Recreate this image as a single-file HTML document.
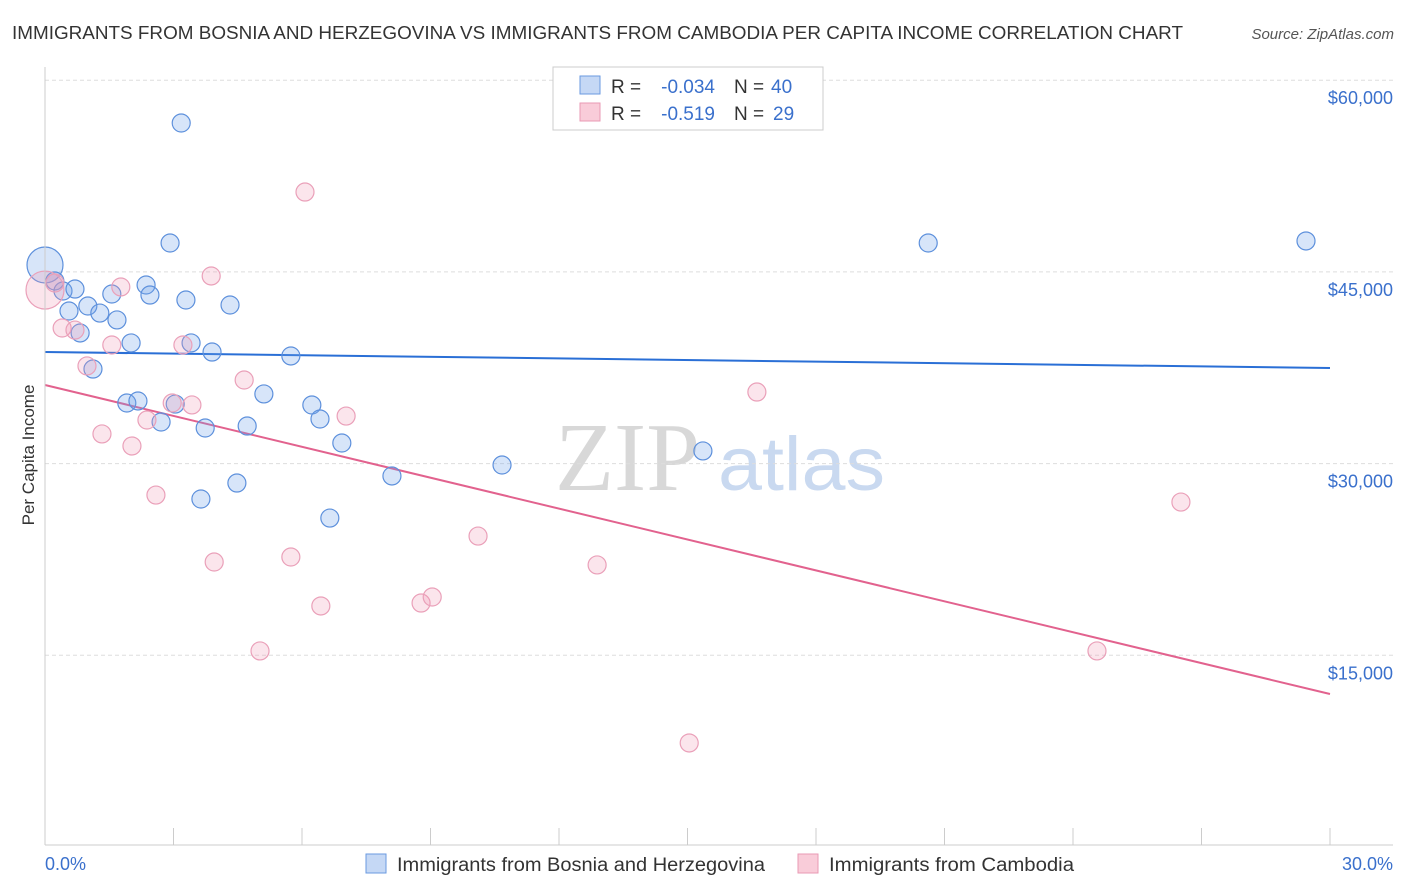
<!DOCTYPE html>
<html><head><meta charset="utf-8"><style>
body{margin:0;background:#fff;font-family:"Liberation Sans",sans-serif}
svg{display:block}
</style></head><body>
<svg id="chart" width="1406" height="892">
<text x="12" y="39" font-size="18" fill="#333" textLength="1171" lengthAdjust="spacingAndGlyphs">IMMIGRANTS FROM BOSNIA AND HERZEGOVINA VS IMMIGRANTS FROM CAMBODIA PER CAPITA INCOME CORRELATION CHART</text>
<text x="1394" y="39" font-size="15" fill="#555" font-style="italic" text-anchor="end">Source: ZipAtlas.com</text>
<g><text x="555" y="490" font-size="98" fill="#d8d8d8" font-family="Liberation Serif,serif" textLength="145" lengthAdjust="spacingAndGlyphs">ZIP</text><text x="718" y="490" font-size="76" fill="#c9d9f0" textLength="167" lengthAdjust="spacingAndGlyphs">atlas</text></g>
<g id="grid"></g><g id="trend"></g><g id="pts"></g>
<line x1="45" y1="67" x2="45" y2="845" stroke="#ccc"/>
<line x1="45" y1="845" x2="1393" y2="845" stroke="#ccc"/>
<text transform="translate(34,455) rotate(-90)" font-size="17" fill="#333" text-anchor="middle">Per Capita Income</text>
<text x="45" y="870" font-size="18" fill="#3a70cc">0.0%</text>
<text x="1393" y="870" font-size="18" fill="#3a70cc" text-anchor="end">30.0%</text>
<g>
<rect x="553" y="67" width="270" height="63" fill="#fff" stroke="#ccc"/>
<rect x="580" y="76" width="20" height="18" fill="#c5d8f5" stroke="#6a9ae0"/>
<rect x="580" y="103" width="20" height="18" fill="#f9ccd9" stroke="#e99ab4"/>
<text x="611" y="93" font-size="19" fill="#333">R =</text>
<text x="715" y="93" font-size="19" fill="#3a70cc" text-anchor="end">-0.034</text>
<text x="734" y="93" font-size="19" fill="#333">N =</text>
<text x="771" y="93" font-size="19" fill="#3a70cc">40</text>
<text x="611" y="120" font-size="19" fill="#333">R =</text>
<text x="715" y="120" font-size="19" fill="#3a70cc" text-anchor="end">-0.519</text>
<text x="734" y="120" font-size="19" fill="#333">N =</text>
<text x="773" y="120" font-size="19" fill="#3a70cc">29</text>
</g>
<g>
<rect x="366" y="854" width="20" height="19" fill="#c5d8f5" stroke="#6a9ae0"/>
<text x="397" y="871" font-size="19" fill="#333" textLength="368" lengthAdjust="spacingAndGlyphs">Immigrants from Bosnia and Herzegovina</text>
<rect x="798" y="854" width="20" height="19" fill="#f9ccd9" stroke="#e99ab4"/>
<text x="829" y="871" font-size="19" fill="#333" textLength="245" lengthAdjust="spacingAndGlyphs">Immigrants from Cambodia</text>
</g>
</svg>
<script>
const yTicks=[15000,30000,45000,60000];
const yTickLabels=["$15,000","$30,000","$45,000","$60,000"];
const xTicks=[0,3,6,9,12,15,18,21,24,27,30];
const bosniaX=[0,0.23,0.42,0.70,0.56,0.82,1.00,1.28,1.12,1.56,1.68,2.01,1.91,2.17,2.36,2.45,2.71,3.04,3.18,2.92,3.29,3.41,3.74,3.64,3.90,4.32,4.48,4.72,5.11,5.74,6.23,6.42,6.65,6.93,8.10,10.67,15.36,20.62,29.44];
const bosniaY=[45540,44290,43505,43660,41940,40220,42330,41780,37400,43270,41240,39440,34740,34900,43975,43190,33255,34660,56650,47260,42800,39440,32785,27230,38730,42410,28480,32940,35450,38420,34585,33490,25740,31610,29030,29890,30990,47260,47420];
const cambodiaX=[0,0.23,0.40,0.70,0.98,1.33,1.56,1.77,2.03,2.38,2.59,2.97,3.22,3.43,3.88,3.95,4.65,5.02,5.74,6.07,6.44,7.03,8.78,9.04,10.11,12.89,15.04,16.62,24.56,26.52];
const cambodiaY=[43580,44130,40610,40450,37640,32320,39280,43820,31380,33410,27540,34740,39280,34590,44680,22300,36540,15340,22690,51250,18860,33720,19090,19560,24330,22070,8140,35600,15340,26990];
const bosniaTrend=[38730,37480];
const cambodiaTrend=[36150,11970];
const X=p=>45+p*42.833, Y=v=>847-v*0.012780;
const NS="http://www.w3.org/2000/svg";
function mk(t,a,parent){const e=document.createElementNS(NS,t);for(const k in a)e.setAttribute(k,a[k]);document.getElementById(parent).appendChild(e);return e;}
yTicks.forEach((v,i)=>{
 const l=mk('line',{x1:45,x2:1393,y1:Y(v),y2:Y(v),stroke:'#ddd','stroke-dasharray':'4,3'},'grid');
 
 
 const t=mk('text',{x:1393,y:Y(v)+24,'font-size':18,fill:'#3a70cc','text-anchor':'end'},'grid');
 t.textContent=yTickLabels[i];
 
 
});
xTicks.forEach(p=>{
 const l=mk('line',{x1:X(p),x2:X(p),y1:828,y2:845,stroke:'#ccc'},'grid');
 
 
});
let b=mk('line',{x1:X(0),y1:Y(bosniaTrend[0]),x2:X(30),y2:Y(bosniaTrend[1]),stroke:'#2a6fd6','stroke-width':2},'trend');


let c=mk('line',{x1:X(0),y1:Y(cambodiaTrend[0]),x2:X(30),y2:Y(cambodiaTrend[1]),stroke:'#e2628e','stroke-width':2},'trend');


bosniaX.forEach((x,i)=>{
 const e=mk('circle',{cx:X(x),cy:Y(bosniaY[i]),r:i==0?18:9,fill:'rgba(110,160,235,0.28)',stroke:'#5d90dc','stroke-width':1.2},'pts');
 
 
});
cambodiaX.forEach((x,i)=>{
 const e=mk('circle',{cx:X(x),cy:Y(cambodiaY[i]),r:i==0?19:9,fill:'rgba(240,150,180,0.25)',stroke:'#eaa0b9','stroke-width':1.2},'pts');
 
 
});
</script>
</body></html>
